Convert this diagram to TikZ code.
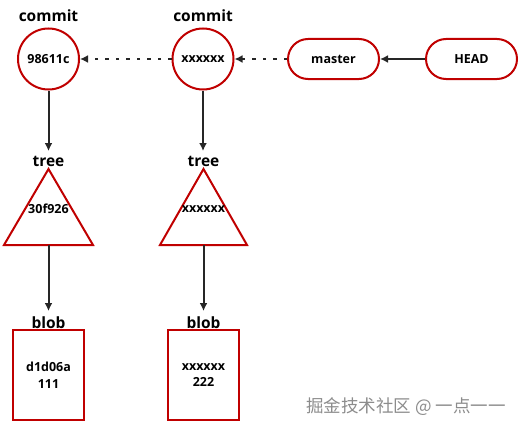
\documentclass[tikz,border=0pt]{standalone}
\usepackage{fontspec}
\setmainfont{Open Sans}
\newfontfamily\cjk{Noto Sans CJK SC}
\usetikzlibrary{arrows.meta,shapes.geometric}
\definecolor{boxred}{HTML}{C00000}
\begin{document}
\begin{tikzpicture}[x=1pt,y=-1pt,
  obj/.style={draw=boxred,line width=2pt,font=\bfseries\fontsize{12.5}{15}\selectfont,inner sep=0pt},
  lbl/.style={font=\bfseries\fontsize{15.5}{17}\selectfont,inner sep=0pt},
  arr/.style={line width=2pt,draw=black!85,-{Latex[length=8pt,width=8pt]}},
  dotarr/.style={line width=2pt,draw=black!85,dash pattern=on 3.5pt off 7pt,-{Latex[length=8pt,width=8pt]}}]
\useasboundingbox (0,0) rectangle (521,428);
% commits
\node[obj,circle,minimum size=61pt] (c1) at (48.5,59) {98611c};
\node[obj,circle,minimum size=61pt] (c2) at (203,59) {xxxxxx};
\node[lbl] (c1l) at (48.5,16) {commit};
\node[lbl] (c2l) at (203,16) {commit};
% refs
\node[obj,rounded corners=20pt,minimum width=91pt,minimum height=40pt] (master) at (333.5,59) {master};
\node[obj,rounded corners=20pt,minimum width=91pt,minimum height=40pt] (head) at (471.5,59) {HEAD};
% trees
\coordinate (t1a) at (48.5,169);
\coordinate (t1b) at (4,245);
\coordinate (t1c) at (93,245);
\draw[draw=boxred,line width=2pt,line join=miter] (t1a) -- (t1c) -- (t1b) -- cycle;
\coordinate (t2a) at (203.5,169);
\coordinate (t2b) at (160,245);
\coordinate (t2c) at (247,245);
\draw[draw=boxred,line width=2pt,line join=miter] (t2a) -- (t2c) -- (t2b) -- cycle;
\node[lbl] (t1l) at (48.5,161) {tree};
\node[lbl] (t2l) at (203.5,161) {tree};
\node[font=\bfseries\fontsize{12.5}{15}\selectfont,inner sep=0pt] (t1t) at (48.5,209) {30f926};
\node[font=\bfseries\fontsize{12.5}{15}\selectfont,inner sep=0pt] (t2t) at (203.5,209) {xxxxxx};
\coordinate (t1base) at (48.5,245);
\coordinate (t2base) at (203.5,245);
\coordinate (t1end) at (48.5,311);
\coordinate (t2end) at (203.5,311);
\coordinate (c1end) at (48.5,151);
\coordinate (c2end) at (203,151);
% blobs
\node[obj,minimum width=71pt,minimum height=90pt,align=center] (b1) at (48.5,375) {d1d06a\\[1.5pt]111};
\node[obj,minimum width=71pt,minimum height=90pt,align=center] (b2) at (203.5,375) {xxxxxx\\[1.5pt]222};
\node[lbl] (b1l) at (48.5,323) {blob};
\node[lbl] (b2l) at (203.5,323) {blob};
% connectors
\draw[arr] (head) -- (master);
\draw[dotarr] (master) -- (c2);
\draw[dotarr] (c2) -- (c1);
\draw[arr] (c1) -- (c1end);
\draw[arr] (c2) -- (c2end);
\draw[arr] (t1base) -- (t1end);
\draw[arr] (t2base) -- (t2end);
% watermark
\node[font=\cjk\fontsize{17.5}{19}\selectfont,text=black!45,inner sep=0pt] (wm) at (406,407) {掘金技术社区 @ 一点一一};
\end{tikzpicture}
\end{document}
